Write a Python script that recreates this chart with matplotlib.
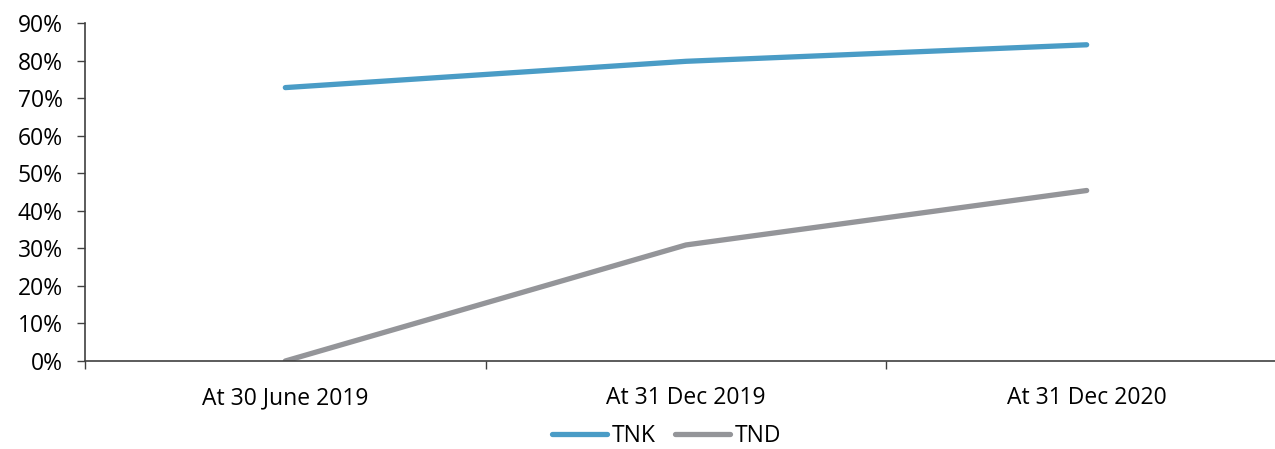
import numpy as np
import matplotlib.pyplot as plt
from matplotlib.ticker import PercentFormatter, FixedLocator

plt.rcParams['font.family'] = ['Open Sans', 'DejaVu Sans']

categories = ["At 30 June 2019", "At 31 Dec 2019", "At 31 Dec 2020"]
tnk = [72.8, 79.8, 84.2]
tnd = [0.0, 30.9, 45.4]

fig = plt.figure(figsize=(12.75, 4.49), dpi=100)
ax = fig.add_axes([85 / 1275, 88 / 449, (1287 - 85) / 1275, 338 / 449])

x = np.arange(len(categories)) + 0.5
ax.plot(x, tnk, color='#4a9cc6', lw=3.8, solid_capstyle='round', label='TNK')
ax.plot(x, tnd, color='#949599', lw=3.8, solid_capstyle='round', label='TND')

ax.set_xlim(0, len(categories))
ax.set_ylim(0, 90)
ax.set_yticks(np.arange(0, 91, 10))
ax.yaxis.set_major_formatter(PercentFormatter(decimals=0))
ax.xaxis.set_major_locator(FixedLocator(np.arange(len(categories) + 1)))
ax.xaxis.set_major_formatter(plt.NullFormatter())
ax.xaxis.set_minor_locator(FixedLocator(x))
ax.set_xticklabels(categories, minor=True)
fs = 16.5
ax.tick_params(axis='x', which='minor', length=0, pad=18, labelsize=fs)
ax.tick_params(axis='x', which='major', length=6, width=1, color='#404040')
ax.tick_params(axis='y', length=6, width=1, color='#404040', pad=10, labelsize=fs)

for s in ['top', 'right']:
    ax.spines[s].set_visible(False)
for s in ['left', 'bottom']:
    ax.spines[s].set_color('#404040')
    ax.spines[s].set_linewidth(1.2)

fig.legend(loc='center', bbox_to_anchor=(667 / 1275, 1 - 436 / 449), ncol=2, frameon=False,
           fontsize=fs, handlelength=2.4, handletextpad=0.2, columnspacing=0.85,
           borderpad=0.1)

fig.savefig('out.png', dpi=100)
